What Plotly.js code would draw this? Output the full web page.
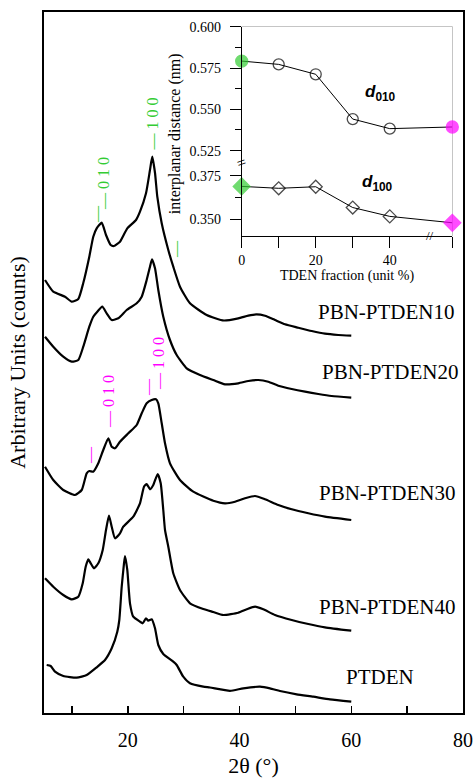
<!DOCTYPE html>
<html><head><meta charset="utf-8">
<script src="https://cdn.plot.ly/plotly-3.0.1.min.js"></script>
<style>html,body{margin:0;padding:0;background:#fff}#chart{width:476px;height:782px}</style>
</head><body><div id="chart"></div>
<script>
// ---- XRD patterns (2θ in degrees, intensity in arbitrary offset units) ----
const x10 = [5.18,6.66,8.76,9.96,11.14,12.03,13.11,13.82,14.43,15.33,16.1,16.94,17.53,18.6,19.91,21.47,22.18,23.26,23.97,24.38,24.87,25.28,26.07,27.25,28.14,29.34,31.13,34.12,37.2,39.78,41.57,43.07,44.56,46.35,48.14,50.52,52.92,55.29,57.68,60];
const y10 = [433,421.3,416.3,411.3,414,430,456.3,476.3,484.7,490.3,478,468,467,471.3,484.7,493,501.3,519.7,543,556.3,540,516.3,489.7,463,446.3,426.3,409.7,398,392.5,394.7,397.3,398.7,397.3,393,388.7,385.3,382,379.3,378,377.3];
const x20 = [5.18,6.66,8.45,9.96,11.14,12.03,13.11,13.82,14.54,15.43,16.22,17.12,18.3,19.8,21.59,22.49,23.38,23.97,24.33,24.87,25.46,26.35,27.55,28.75,30.54,32.92,35.3,37.4,39.78,41.57,43.36,45.15,46.94,49.34,51.72,54.1,56.49,60];
const y20 = [376.3,366.3,356.3,351.3,353,366.3,386.3,396.3,401.3,406.3,399.7,393,394.7,403,409.7,416.3,433,446.3,453.7,444.7,423,396.3,373,358,344.7,338,333,328.7,329.7,332,333,331.3,327.3,324,321.3,319,317,315.3];
const x30 = [5.18,6.66,8.45,10.55,11.75,12.64,13.11,13.82,14.72,15.61,16.51,17.12,17.71,18.6,20.09,21.59,22.49,23.38,24.28,25.05,25.46,26.07,26.66,27.55,29.34,31.72,35.3,37.4,39.19,40.98,42.77,44.56,46.94,49.34,52.31,55.29,60];
const y30 = [246.3,233,223,218,223,239.7,242,241.3,249.7,263,274.7,266.3,264.7,271.3,279.7,288,299.7,309.7,313,313.7,309.7,289.7,269.7,249.7,233,221.3,212.3,209.7,211.3,214.7,217,213.7,208,203.7,199.7,196.3,193];
const x40 = [5.18,6.66,8.45,9.96,11.14,11.93,12.46,12.93,13.36,13.95,14.72,15.51,16.1,16.63,17.12,17.71,18.6,19.19,20.98,22.18,22.9,23.38,23.97,24.56,25.35,25.89,26.35,26.66,27.25,28.14,29.34,31.13,33.51,35.3,37.09,39.78,41.28,42.77,44.25,46.35,49.34,52.31,55.29,60];
const y40 = [134.7,126.3,118,113.7,116.3,129.7,146.3,153.7,149.7,144.7,149.7,163,183,197.3,186.3,174.7,179.7,186.3,196.3,209.7,226.3,229,223.7,228,239,229.7,203,183,166.3,139.7,123,109.7,104,101,98,100.3,103.7,106.3,103.7,98,93,89,85.7,82.3];
const xPT = [5.48,6.2,6.97,8.45,10.85,12.64,14.43,15.92,17.12,18.12,18.48,18.91,19.32,19.5,19.91,20.39,20.98,22.18,22.67,23.26,23.67,24.28,24.87,25.46,26.35,28.14,28.75,29.93,31.13,33.51,34.71,38.29,40.67,43.66,45.45,47.24,50.23,53.2,56.19,60];
const yPT = [48,47,41.3,37,35.3,38,45.7,53,64.7,81.3,93,126.3,149.7,157,143,109.7,96.3,91.3,89.7,94.7,92.3,93.7,84.7,68,59,51.3,48,36.3,29.7,26.3,25.5,22.2,24.7,26.3,24.7,22,18.7,16.3,13.7,11.3];

const curveNames = ["PBN-PTDEN10","PBN-PTDEN20","PBN-PTDEN30","PBN-PTDEN40","PTDEN"];
const labelX = [53.6, 54.4, 53.8, 53.9, 58.7];
const labelY = [401, 341, 220, 106, 36];

const mainTickVals = [20,40,60,80];
const mainMinorTicks = [10,30,50,70];

// peak index marks
const peakMarkText = ["— 0 1 0","—","— 1 0 0","—","—","— 0 1 0","—","— 1 0 0"];
const peakMarkX = [15.56,14.31,24.42,28.45,13.05,16.46,23.44,25.4];
const peakMarkY = [529,499,589,464,258,311,326,350];
const peakMarkColor = ["#33cc33","#33cc33","#33cc33","#33cc33","#ff00ff","#ff00ff","#ff00ff","#ff00ff"];

// ---- inset: interplanar distances vs TDEN fraction ----
const tdenFraction = [0,10,20,30,40,100];
const d010 = [0.5792,0.5772,0.5712,0.5441,0.5383,0.5393];
const d100 = [0.3690,0.3679,0.3688,0.3568,0.3517,0.3480];
const insetTickVals = [0,20,40];
const insetMinorTicks = [10,30];
const BREAK_POS = 56.9;   // position of 100 % on the broken inset axis
const insetX = tdenFraction.map(v => v > 50 ? BREAK_POS : v);

const GREEN = "#33cc33", MAG = "#ff00ff";
const ptFill = tdenFraction.map((v,i) => i === 0 ? GREEN : (v === 100 ? MAG : "rgba(255,255,255,0)"));
const ptLine = tdenFraction.map((v,i) => i === 0 ? GREEN : (v === 100 ? MAG : "black"));
const ptSizeC = tdenFraction.map((v,i) => (i === 0 || v === 100) ? 12 : 11);
const ptSizeD = tdenFraction.map((v,i) => (i === 0 || v === 100) ? 13 : 10);

const serif = "Liberation Serif, Times New Roman, serif";

const xs = [x10,x20,x30,x40,xPT], ys = [y10,y20,y30,y40,yPT];
const traces = xs.map((x,i) => ({
  x: x, y: ys[i], type: "scatter", mode: "lines", name: curveNames[i],
  line: {color: "black", width: 2.2, shape: "spline", smoothing: 0.5},
  xaxis: "x", yaxis: "y", hoverinfo: "skip"
}));
traces.push({
  x: insetX, y: d010, type: "scatter", mode: "lines+markers", xaxis: "x2", yaxis: "y2",
  line: {color: "black", width: 1},
  marker: {symbol: "circle", size: ptSizeC, color: ptFill, line: {color: ptLine, width: 1.3}},
  cliponaxis: false
});
traces.push({
  x: insetX, y: d100, type: "scatter", mode: "lines+markers", xaxis: "x2", yaxis: "y3",
  line: {color: "black", width: 1},
  marker: {symbol: "diamond", size: ptSizeD, color: ptFill, line: {color: ptLine, width: 1.3}},
  cliponaxis: false
});

const annotations = curveNames.map((t,i) => ({
  text: t, x: labelX[i], y: labelY[i], xref: "x", yref: "y", xanchor: "left", yanchor: "middle",
  showarrow: false, font: {family: serif, size: 21, color: "black"}
}));
peakMarkText.forEach((t,i) => annotations.push({
  text: t, x: peakMarkX[i], y: peakMarkY[i], xref: "x", yref: "y", textangle: -90,
  xanchor: "center", yanchor: "middle",
  showarrow: false, font: {family: serif, size: 16, color: peakMarkColor[i]}
}));
annotations.push({text: "<b><i>d</i><sub>010</sub></b>", x: 37.6, y: 0.560, xref: "x2", yref: "y2",
  xanchor: "center", showarrow: false, font: {family: "Liberation Sans, Arial, sans-serif", size: 17, color: "black"}});
annotations.push({text: "<b><i>d</i><sub>100</sub></b>", x: 36.6, y: 0.371, xref: "x2", yref: "y3",
  xanchor: "center", showarrow: false, font: {family: "Liberation Sans, Arial, sans-serif", size: 17, color: "black"}});
annotations.push({text: "interplanar distance (nm)", x: 0.3126, y: 0.827, xref: "paper", yref: "paper",
  xanchor: "center", yanchor: "middle",
  textangle: -90, showarrow: false, font: {family: serif, size: 16, color: "black"}});
annotations.push({text: "//", x: 51, y: 0.6805, xref: "x2", yref: "paper", showarrow: false,
  xanchor: "center", yanchor: "middle", font: {family: serif, size: 13, color: "black"}});
annotations.push({text: "=", x: 0.4718, y: 0.7846, xref: "paper", yref: "paper", showarrow: false,
  xanchor: "center", yanchor: "middle", textangle: -20, font: {family: serif, size: 16, color: "black"}});

const layout = {
  width: 476, height: 782,
  margin: {l: 44, r: 13, t: 12, b: 69},
  paper_bgcolor: "white", plot_bgcolor: "white",
  showlegend: false,
  font: {family: serif, color: "black"},
  xaxis: {
    domain: [0,1], range: [5,80], showline: true, linewidth: 2, linecolor: "black", mirror: true,
    showgrid: false, zeroline: false, ticks: "inside", ticklen: 7, tickwidth: 1.5, tickcolor: "black",
    tickvals: mainTickVals, tickfont: {family: serif, size: 20},
    minor: {tickvals: mainMinorTicks, ticks: "inside", ticklen: 7, tickwidth: 1.5, tickcolor: "black", showgrid: false},
    ticklabelstandoff: 8,
    title: {text: "2θ (°)", font: {family: serif, size: 22}, standoff: 8}
  },
  yaxis: {
    domain: [0,1], range: [0,701], showline: true, linewidth: 2, linecolor: "black", mirror: true,
    showgrid: false, zeroline: false, showticklabels: false, ticks: "",
    title: {text: "Arbitrary Units (counts)", font: {family: serif, size: 22}, standoff: 10}
  },
  xaxis2: {
    domain: [0.4718, 0.9745], anchor: "y3", range: [0, BREAK_POS], showline: true, linewidth: 1,
    linecolor: "black", showgrid: false, zeroline: false, ticks: "outside", ticklen: 11,
    tickcolor: "black", tickvals: insetTickVals, tickfont: {family: serif, size: 14},
    minor: {tickvals: insetMinorTicks.concat([BREAK_POS]), ticks: "outside", ticklen: 11, tickcolor: "black", showgrid: false},
    title: {text: "TDEN fraction (unit %)", font: {family: serif, size: 14}, standoff: 2}
  },
  yaxis2: {
    domain: [0.7846, 0.979], anchor: "x2", range: [0.5175, 0.600], showline: true, linewidth: 1,
    linecolor: "black", showgrid: false, zeroline: false, ticks: "outside", ticklen: 11, tickcolor: "black",
    tickvals: [0.525,0.550,0.575,0.600], tickformat: ".3f", tickfont: {family: serif, size: 14},
    ticklabelstandoff: 6,
    minor: {tickvals: [0.5375,0.5625,0.5875], ticks: "outside", ticklen: 6, tickcolor: "black", showgrid: false}
  },
  yaxis3: {
    domain: [0.6805, 0.7846], anchor: "x2", range: [0.3404, 0.3825], showline: true, linewidth: 1,
    linecolor: "black", showgrid: false, zeroline: false, ticks: "outside", ticklen: 11, tickcolor: "black",
    tickvals: [0.350,0.375], tickformat: ".3f", tickfont: {family: serif, size: 14},
    ticklabelstandoff: 6,
    minor: {tickvals: [0.3625], ticks: "outside", ticklen: 6, tickcolor: "black", showgrid: false}
  },
  shapes: [{type: "rect", xref: "paper", yref: "paper", x0: 0.4718, x1: 0.9745, y0: 0.6805, y1: 0.979,
    line: {color: "#999", width: 1}, fillcolor: "rgba(0,0,0,0)", layer: "below"}],
  annotations: annotations
};

Plotly.newPlot("chart", traces, layout, {staticPlot: true, displayModeBar: false});
</script>
</body></html>
